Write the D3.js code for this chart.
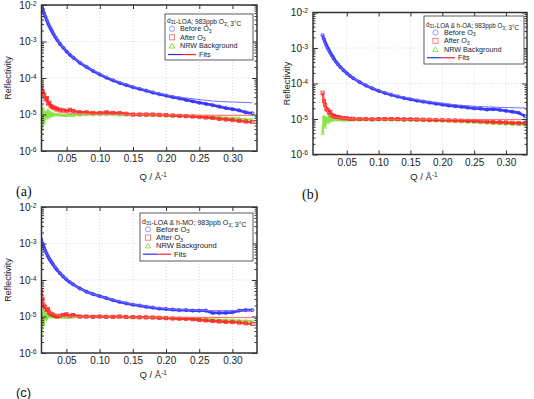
<!DOCTYPE html>
<html>
<head>
<meta charset="utf-8">
<script src="https://cdn.jsdelivr.net/npm/d3@7"></script>
<style>
body { margin: 0; background: #fff; }
svg { display: block; font-family: "Liberation Sans", Arial, sans-serif; }
</style>
</head>
<body>
<svg id="fig" width="534" height="399"></svg>
<script>
// Q grid of the measured points (1/A)
var qData = [0.012, 0.014, 0.016, 0.018, 0.020, 0.022, 0.024, 0.026, 0.028, 0.030, 0.033, 0.036, 0.040, 0.045,
    0.050, 0.055, 0.060, 0.070, 0.080, 0.090, 0.100, 0.110, 0.120, 0.130, 0.140, 0.150, 0.160, 0.170, 0.180,
    0.190, 0.200, 0.210, 0.220, 0.230, 0.240, 0.250, 0.260, 0.270, 0.280, 0.290, 0.300, 0.310, 0.320, 0.330]
// Q grid of the model fits
var qFit = [0.012, 0.015, 0.020, 0.025, 0.030, 0.040, 0.050, 0.060, 0.080, 0.100, 0.120, 0.150, 0.180, 0.210,
    0.240, 0.270, 0.300, 0.330]

var xTicks = [0.05, 0.10, 0.15, 0.20, 0.25, 0.30]
var yTicks = [1e-2, 1e-3, 1e-4, 1e-5, 1e-6]
var yMinor = []
for (var e = -6; e < -2; e++)
    for (var m = 2; m < 10; m++) yMinor.push(m * Math.pow(10, e))

var seriesNames = ["Before O_{3}", "After O_{3}", "NRW Background", "Fits"]
var titles = ["d_{31}-LOA; 983ppb O_{3}; 3°C", "d_{31}-LOA & h-OA; 983ppb O_{3}; 3°C", "d_{31}-LOA & h-MO; 983ppb O_{3}; 3°C"]
var letters = ["(a)", "(b)", "(c)"]

// panel (a)
var beforeA = [1.0e-2, 7.6e-3, 5.9e-3, 4.7e-3, 3.8e-3, 3.1e-3, 2.6e-3, 2.2e-3, 1.9e-3, 1.6e-3, 1.3e-3, 1.08e-3, 8.6e-4, 6.7e-4,
    5.3e-4, 4.3e-4, 3.6e-4, 2.6e-4, 2.0e-4, 1.55e-4, 1.25e-4, 1.02e-4, 8.6e-5, 7.3e-5, 6.4e-5, 5.6e-5, 5.0e-5, 4.5e-5, 4.0e-5,
    3.6e-5, 3.3e-5, 3.0e-5, 2.75e-5, 2.5e-5, 2.3e-5, 2.1e-5, 1.95e-5, 1.8e-5, 1.65e-5, 1.5e-5, 1.4e-5, 1.3e-5, 1.15e-5, 1.08e-5]
var afterA = [6.0e-5, 4.2e-5, 3.5e-5, 2.6e-5, 2.8e-5, 2.0e-5, 2.1e-5, 1.7e-5, 1.6e-5, 1.55e-5, 1.5e-5, 1.4e-5, 1.35e-5, 1.3e-5,
    1.25e-5, 1.35e-5, 1.25e-5, 1.15e-5, 1.15e-5, 1.1e-5, 1.1e-5, 1.15e-5, 1.1e-5, 1.1e-5, 1.05e-5, 1.0e-5, 1.0e-5, 1.0e-5, 1.0e-5,
    9.8e-6, 9.6e-6, 9.4e-6, 9.2e-6, 9.0e-6, 8.8e-6, 8.6e-6, 8.3e-6, 8.0e-6, 7.6e-6, 7.3e-6, 7.0e-6, 6.7e-6, 6.4e-6, 6.2e-6]
var nrwA = [4.0e-6, 1.5e-5, 6.0e-6, 1.2e-5, 8.0e-6, 1.3e-5, 9.0e-6, 1.1e-5, 9.5e-6, 1.05e-5, 1.0e-5, 1.0e-5, 9.8e-6, 9.6e-6,
    9.5e-6, 9.7e-6, 9.6e-6, 9.8e-6, 1.0e-5, 1.0e-5, 1.0e-5, 1.0e-5, 1.0e-5, 9.8e-6, 9.8e-6, 9.7e-6, 9.7e-6, 9.6e-6, 9.5e-6,
    9.4e-6, 9.3e-6, 9.2e-6, 9.1e-6, 9.0e-6, 8.9e-6, 8.8e-6, 8.6e-6, 8.5e-6, 8.3e-6, 8.1e-6, 8.0e-6, 7.7e-6, 7.4e-6, 7.2e-6]
var fitBeforeA = [1.05e-2, 6.5e-3, 3.8e-3, 2.45e-3, 1.65e-3, 8.8e-4, 5.4e-4, 3.7e-4, 2.05e-4, 1.3e-4, 9.0e-5, 5.9e-5, 4.2e-5,
    3.2e-5, 2.7e-5, 2.35e-5, 2.2e-5, 2.1e-5]
var fitAfterA = [5.5e-5, 3.3e-5, 2.0e-5, 1.5e-5, 1.3e-5, 1.15e-5, 1.1e-5, 1.07e-5, 1.04e-5, 1.02e-5, 1.0e-5, 9.9e-6, 9.8e-6,
    9.7e-6, 9.6e-6, 9.5e-6, 9.5e-6, 9.5e-6]

// panel (b)
var beforeB = [2.3e-3, 1.8e-3, 1.45e-3, 1.2e-3, 1.0e-3, 8.6e-4, 7.4e-4, 6.4e-4, 5.6e-4, 4.9e-4, 4.1e-4, 3.5e-4, 2.9e-4, 2.35e-4,
    1.95e-4, 1.65e-4, 1.42e-4, 1.1e-4, 8.8e-5, 7.3e-5, 6.2e-5, 5.4e-5, 4.8e-5, 4.3e-5, 3.9e-5, 3.6e-5, 3.3e-5, 3.1e-5, 2.9e-5,
    2.7e-5, 2.55e-5, 2.4e-5, 2.3e-5, 2.2e-5, 2.1e-5, 2.0e-5, 1.95e-5, 1.85e-5, 1.9e-5, 1.8e-5, 1.7e-5, 1.6e-5, 1.5e-5, 1.2e-5]
var afterB = [5.5e-5, 3.2e-5, 2.5e-5, 1.9e-5, 1.8e-5, 1.5e-5, 1.6e-5, 1.3e-5, 1.25e-5, 1.2e-5, 1.15e-5, 1.15e-5, 1.1e-5, 1.05e-5,
    1.05e-5, 1.0e-5, 1.02e-5, 1.0e-5, 1.0e-5, 9.8e-6, 1.0e-5, 1.0e-5, 1.0e-5, 9.9e-6, 9.8e-6, 9.8e-6, 9.7e-6, 9.6e-6, 9.5e-6,
    9.4e-6, 9.3e-6, 9.2e-6, 9.1e-6, 9.0e-6, 8.9e-6, 8.8e-6, 8.6e-6, 8.4e-6, 8.2e-6, 8.1e-6, 8.0e-6, 7.8e-6, 7.7e-6, 7.6e-6]
var nrwB = [4.0e-6, 1.2e-5, 6.0e-6, 1.1e-5, 8.0e-6, 1.15e-5, 9.0e-6, 1.05e-5, 9.5e-6, 1.0e-5, 9.8e-6, 9.7e-6, 9.6e-6, 9.5e-6,
    9.5e-6, 9.6e-6, 9.5e-6, 9.5e-6, 9.6e-6, 9.6e-6, 9.6e-6, 9.6e-6, 9.5e-6, 9.5e-6, 9.4e-6, 9.4e-6, 9.3e-6, 9.2e-6, 9.1e-6,
    9.0e-6, 8.9e-6, 8.8e-6, 8.6e-6, 8.5e-6, 8.3e-6, 8.2e-6, 8.0e-6, 7.8e-6, 7.6e-6, 7.5e-6, 7.3e-6, 7.2e-6, 7.1e-6, 7.0e-6]
var fitBeforeB = [2.4e-3, 1.5e-3, 9.5e-4, 6.2e-4, 4.6e-4, 2.9e-4, 1.95e-4, 1.45e-4, 9.0e-5, 6.4e-5, 5.0e-5, 3.8e-5, 3.1e-5,
    2.65e-5, 2.35e-5, 2.2e-5, 2.1e-5, 2.05e-5]
var fitAfterB = [4.5e-5, 2.6e-5, 1.6e-5, 1.3e-5, 1.15e-5, 1.05e-5, 1.02e-5, 1.0e-5, 1.0e-5, 9.9e-6, 9.8e-6, 9.8e-6, 9.7e-6,
    9.7e-6, 9.6e-6, 9.6e-6, 9.6e-6, 9.6e-6]

// panel (c)
var beforeC = [1.3e-3, 1.0e-3, 8.0e-4, 6.5e-4, 5.4e-4, 4.5e-4, 3.9e-4, 3.4e-4, 3.0e-4, 2.65e-4, 2.2e-4, 1.9e-4, 1.55e-4, 1.25e-4,
    1.03e-4, 8.7e-5, 7.6e-5, 5.9e-5, 4.8e-5, 4.1e-5, 3.6e-5, 3.2e-5, 2.8e-5, 2.5e-5, 2.3e-5, 2.1e-5, 2.0e-5, 1.85e-5, 1.75e-5,
    1.65e-5, 1.6e-5, 1.55e-5, 1.5e-5, 1.5e-5, 1.45e-5, 1.45e-5, 1.45e-5, 1.25e-5, 1.25e-5, 1.25e-5, 1.3e-5, 1.45e-5, 1.5e-5, 1.5e-5]
var afterC = [5.2e-5, 3.0e-5, 2.0e-5, 1.8e-5, 1.5e-5, 1.6e-5, 1.3e-5, 1.2e-5, 1.15e-5, 1.1e-5, 1.05e-5, 1.0e-5, 1.05e-5, 1.1e-5,
    1.15e-5, 1.05e-5, 1.1e-5, 1.0e-5, 1.0e-5, 9.8e-6, 1.0e-5, 9.8e-6, 9.8e-6, 1.0e-5, 9.7e-6, 9.6e-6, 9.5e-6, 9.5e-6, 9.4e-6,
    9.2e-6, 9.0e-6, 8.8e-6, 8.7e-6, 8.6e-6, 8.4e-6, 8.0e-6, 7.8e-6, 7.5e-6, 7.3e-6, 7.1e-6, 7.0e-6, 6.8e-6, 6.5e-6, 6.3e-6]
var nrwC = [3.5e-6, 1.6e-5, 6.0e-6, 1.3e-5, 9.0e-6, 1.2e-5, 1.0e-5, 1.05e-5, 1.0e-5, 1.0e-5, 9.8e-6, 9.8e-6, 9.7e-6, 9.7e-6,
    9.6e-6, 9.7e-6, 9.7e-6, 9.8e-6, 9.8e-6, 9.8e-6, 9.8e-6, 9.7e-6, 9.7e-6, 9.6e-6, 9.6e-6, 9.5e-6, 9.5e-6, 9.4e-6, 9.3e-6,
    9.2e-6, 9.1e-6, 9.0e-6, 8.9e-6, 8.8e-6, 8.7e-6, 8.6e-6, 8.4e-6, 8.3e-6, 8.1e-6, 8.0e-6, 7.9e-6, 7.7e-6, 7.6e-6, 7.5e-6]
var fitBeforeC = [1.35e-3, 8.5e-4, 5.4e-4, 3.7e-4, 2.7e-4, 1.6e-4, 1.05e-4, 7.6e-5, 4.8e-5, 3.6e-5, 2.9e-5, 2.2e-5, 1.8e-5,
    1.6e-5, 1.5e-5, 1.45e-5, 1.45e-5, 1.45e-5]
var fitAfterC = [4.8e-5, 2.8e-5, 1.7e-5, 1.3e-5, 1.15e-5, 1.05e-5, 1.0e-5, 9.9e-6, 9.8e-6, 9.7e-6, 9.7e-6, 9.6e-6, 9.5e-6,
    9.5e-6, 9.4e-6, 9.4e-6, 9.3e-6, 9.3e-6]

var col = {
    blue: "#2b2bff", red: "#ff2424", green: "#86e03c",
    blueFit: "#6f6fff", redFit: "#ff6a6a",
    blueMk: "#7c7cff", redMk: "#ff6262", greenMk: "#70d830",
    axis: "#333", grid: "#c8c8c8", text: "#222"
}

var panels = [
    { before: beforeA, after: afterA, nrw: nrwA, fitB: fitBeforeA, fitA: fitAfterA,
      left: 41.5, right: 257, top: 5, bottom: 151, qmin: 0.012, qmax: 0.337,
      ylab: 8, xlabY: 180, letter: { x: 16, y: 196, serif: true },
      leg: { x: 165, y: 14, w: 88, h: 46, fs: 7.2, tfs: 6.6, t0: 8.5, dy: 8.6, mx: 7, tx: 15 } },
    { before: beforeB, after: afterB, nrw: nrwB, fitB: fitBeforeB, fitA: fitAfterB,
      left: 313, right: 527, top: 12.5, bottom: 154.5, qmin: -0.003, qmax: 0.333,
      ylab: 287, xlabY: 180, letter: { x: 302, y: 199, serif: true },
      leg: { x: 424, y: 16, w: 100, h: 48, fs: 7.2, tfs: 6.3, t0: 10.5, dy: 8.4, mx: 11.5, tx: 20 } },
    { before: beforeC, after: afterC, nrw: nrwC, fitB: fitBeforeC, fitA: fitAfterC,
      left: 41.5, right: 257, top: 207, bottom: 353, qmin: 0.0125, qmax: 0.337,
      ylab: 8, xlabY: 378, letter: { x: 16, y: 397, serif: false },
      leg: { x: 140, y: 213, w: 113, h: 48, fs: 7.6, tfs: 7, t0: 10.5, dy: 8.3, mx: 8, tx: 16 } }
]

var svg = d3.select("#fig")

// writes "a_{b}" markup as text with subscript tspans
function richText(sel, str, shift) {
    str.split(/(_\{[^}]*\})/).forEach(function (part) {
        if (!part) return
        if (part.indexOf("_{") == 0) {
            sel.append("tspan").attr("dy", shift).attr("font-size", "0.72em").text(part.slice(2, -1))
            sel.append("tspan").attr("dy", -shift).text("")
        } else {
            sel.append("tspan").text(part)
        }
    })
}

function marker(g, kind, cx, cy, s, color, sw) {
    if (kind == "circle")
        g.append("circle").attr("cx", cx).attr("cy", cy).attr("r", s)
            .attr("fill", "none").attr("stroke", color).attr("stroke-width", sw)
    else if (kind == "square")
        g.append("rect").attr("x", cx - s).attr("y", cy - s).attr("width", 2 * s).attr("height", 2 * s)
            .attr("fill", "none").attr("stroke", color).attr("stroke-width", sw)
    else
        g.append("path").attr("d", "M" + cx + "," + (cy - s) + "L" + (cx + s * 1.05) + "," + (cy + s * 0.8) +
            "L" + (cx - s * 1.05) + "," + (cy + s * 0.8) + "Z")
            .attr("fill", "none").attr("stroke", color).attr("stroke-width", sw)
}

panels.forEach(function (p, i) {
    var x = d3.scaleLinear().domain([p.qmin, p.qmax]).range([p.left, p.right])
    var y = d3.scaleLog().domain([1e-6, 1e-2]).range([p.bottom, p.top])
    var g = svg.append("g")

    var clipId = "clip" + i
    g.append("clipPath").attr("id", clipId).append("rect")
        .attr("x", p.left).attr("y", p.top).attr("width", p.right - p.left).attr("height", p.bottom - p.top)

    // dotted grid
    g.append("g").selectAll("line").data(xTicks).enter().append("line")
        .attr("x1", d => x(d)).attr("x2", d => x(d)).attr("y1", p.top).attr("y2", p.bottom)
        .attr("stroke", col.grid).attr("stroke-width", 0.7).attr("stroke-dasharray", "1,2")
    g.append("g").selectAll("line").data(yTicks).enter().append("line")
        .attr("x1", p.left).attr("x2", p.right).attr("y1", d => y(d)).attr("y2", d => y(d))
        .attr("stroke", col.grid).attr("stroke-width", 0.7).attr("stroke-dasharray", "1,2")

    // data
    var plot = g.append("g").attr("clip-path", "url(#" + clipId + ")")
    var line = d3.line().x(d => x(d[0])).y(d => y(d[1]))
    var sets = [
        { v: p.nrw, c: col.green, k: "triangle", w: 2.2 },
        { v: p.after, c: col.red, k: "square", w: 2.4 },
        { v: p.before, c: col.blue, k: "circle", w: 2.8 }
    ]
    sets.forEach(function (s) {
        var pts = qData.map((q, j) => [q, s.v[j]])
        plot.append("path").datum(pts).attr("d", line)
            .attr("fill", "none").attr("stroke", s.c).attr("stroke-width", s.w).attr("opacity", 0.9)
        var mg = plot.append("g")
        pts.forEach(d => marker(mg, s.k, x(d[0]), y(d[1]), 1.6, s.c, 0.8))
    })
    plot.append("path").datum(qFit.map((q, j) => [q, p.fitA[j]])).attr("d", line.curve(d3.curveMonotoneX))
        .attr("fill", "none").attr("stroke", col.redFit).attr("stroke-width", 1)
    plot.append("path").datum(qFit.map((q, j) => [q, p.fitB[j]])).attr("d", line.curve(d3.curveMonotoneX))
        .attr("fill", "none").attr("stroke", col.blueFit).attr("stroke-width", 1)

    // axes, ticks pointing inward
    var ax = g.append("g").attr("color", col.axis).attr("font-size", 9.5).attr("font-family", "Liberation Sans, Arial, sans-serif")
    ax.append("g").attr("transform", "translate(0," + p.bottom + ")")
        .call(d3.axisBottom(x).tickValues(xTicks).tickSize(-4).tickPadding(4).tickFormat(d3.format(".2f")))
    ax.append("g").attr("transform", "translate(0," + p.top + ")")
        .call(d3.axisTop(x).tickValues(xTicks).tickSize(-4).tickFormat(""))
    ax.append("g").attr("transform", "translate(" + p.left + ",0)")
        .call(d3.axisLeft(y).tickValues(yMinor).tickSize(-2.5).tickFormat(""))
    ax.append("g").attr("transform", "translate(" + p.right + ",0)")
        .call(d3.axisRight(y).tickValues(yMinor).tickSize(-2.5).tickFormat(""))
    ax.append("g").attr("transform", "translate(" + p.right + ",0)")
        .call(d3.axisRight(y).tickValues(yTicks).tickSize(-5).tickFormat(""))
    var yl = ax.append("g").attr("transform", "translate(" + p.left + ",0)")
        .call(d3.axisLeft(y).tickValues(yTicks).tickSize(-5).tickPadding(5).tickFormat(""))
    yl.selectAll(".tick text").each(function (d) {
        var t = d3.select(this)
        t.append("tspan").text("10")
        t.append("tspan").attr("dy", "-0.45em").attr("font-size", "0.68em").text(Math.round(Math.log10(d)))
    })
    ax.selectAll(".domain").remove()
    ax.selectAll(".tick line").attr("stroke-width", 1)
    ax.selectAll("text").attr("fill", col.text)
    g.append("rect").attr("x", p.left).attr("y", p.top).attr("width", p.right - p.left).attr("height", p.bottom - p.top)
        .attr("fill", "none").attr("stroke", col.axis).attr("stroke-width", 1.5)

    // axis titles
    g.append("text").attr("transform", "translate(" + (p.ylab + 3) + "," + ((p.top + p.bottom) / 2) + ") rotate(-90)")
        .attr("text-anchor", "middle").attr("font-size", 9).attr("fill", col.text).text("Reflectivity")
    var xt = g.append("text").attr("x", (p.left + p.right) / 2 + 4).attr("y", p.xlabY)
        .attr("text-anchor", "middle").attr("font-size", 9.5).attr("fill", col.text)
    xt.append("tspan").text("Q / \u00c5")
    xt.append("tspan").attr("dy", "-0.45em").attr("font-size", "0.68em").text("-1")

    // panel letter
    g.append("text").attr("x", p.letter.x).attr("y", p.letter.y)
        .attr("font-family", p.letter.serif ? "Liberation Serif, Times New Roman, serif" : "Liberation Sans, Arial, sans-serif")
        .attr("font-size", p.letter.serif ? 14 : 13).attr("fill", "#111").text(letters[i])

    // legend
    var L = p.leg
    var lg = g.append("g").attr("font-size", L.fs).attr("fill", col.text)
    lg.append("rect").attr("x", L.x).attr("y", L.y).attr("width", L.w).attr("height", L.h)
        .attr("fill", "#fff").attr("stroke", col.axis).attr("stroke-width", 0.8)
    richText(lg.append("text").attr("x", L.x + 2).attr("y", L.y + L.t0).attr("font-size", L.tfs), titles[i], 1.5)
    var kinds = [["circle", col.blueMk], ["square", col.redMk], ["triangle", col.greenMk]]
    kinds.forEach(function (k, j) {
        var by = L.y + L.t0 + L.dy * (j + 1)
        marker(lg, k[0], L.x + L.mx, by - L.fs * 0.33, 2.6, k[1], 0.8)
        richText(lg.append("text").attr("x", L.x + L.tx).attr("y", by), seriesNames[j], 1.5)
    })
    var fy = L.y + L.t0 + L.dy * 4
    lg.append("line").attr("x1", L.x + 3).attr("x2", L.x + 17).attr("y1", fy - L.fs * 0.33).attr("y2", fy - L.fs * 0.33)
        .attr("stroke", col.blue).attr("stroke-width", 1.2)
    lg.append("line").attr("x1", L.x + 17).attr("x2", L.x + 31).attr("y1", fy - L.fs * 0.33).attr("y2", fy - L.fs * 0.33)
        .attr("stroke", col.red).attr("stroke-width", 1.2)
    lg.append("text").attr("x", L.x + 34).attr("y", fy).text(seriesNames[3])
})
</script>
</body>
</html>
